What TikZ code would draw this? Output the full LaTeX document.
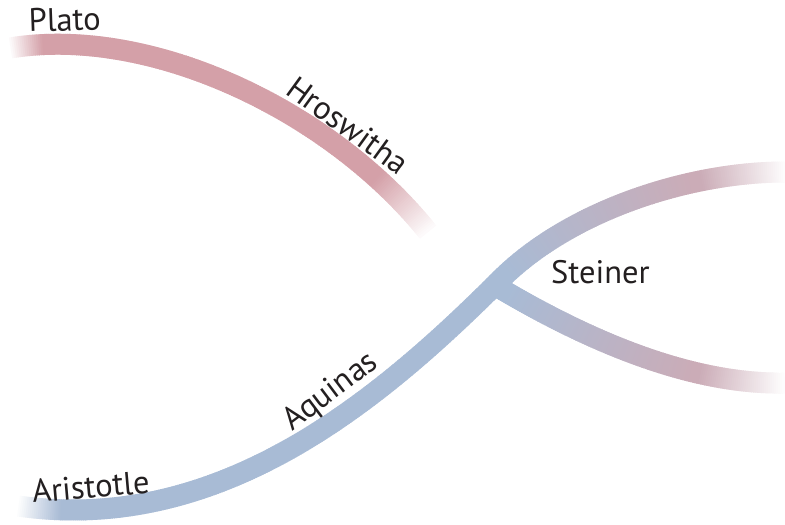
\documentclass[tikz,border=0pt]{standalone}
\usepackage{fontspec}
\setmainfont{PT Sans}
\usetikzlibrary{decorations.markings}
\definecolor{bandblue}{RGB}{168,187,213}
\definecolor{bandrose}{RGB}{212,160,168}
\definecolor{bandmauve}{RGB}{203,172,183}
\definecolor{labelgray}{RGB}{35,31,32}

% one thin slice of a band, coloured by its place along the path
\newcommand\bandpiece{%
  \pgfmathsetmacro\bandf{\pgfkeysvalueof{/pgf/decoration/mark info/distance from start}/\pgfdecoratedpathlength}%
  \pgfmathsetmacro\bandm{100*min(1,max(0,(\bandf-\mixa)/(\mixb-\mixa)))}%
  \pgfmathsetmacro\bandw{100*max(0,min(1,\bandf/\fadea,(1-\bandf)/(1-\fadeb)))}%
  \colorlet{bandtmp}{\bandfar!\bandm!\bandnear}%
  \fill[bandtmp!\bandw!white] (-1.4pt,-\bandhw) rectangle (1.4pt,\bandhw);%
}

\begin{document}
\begin{tikzpicture}[
    x=1pt, y=-1pt,
    band near/.store in=\bandnear,
    band far/.store in=\bandfar,
    mix from/.store in=\mixa,
    mix to/.store in=\mixb,
    fade in/.store in=\fadea,
    fade out/.store in=\fadeb,
    band width/.store in=\bandhw,
    band/.style={band width=10.5pt, postaction={decorate},
        decoration={markings, mark=between positions 0 and 1 step 2pt with {\bandpiece}}},
    philo/.style={font=\fontsize{32.5}{38}\selectfont, text=labelgray, inner sep=0pt, anchor=base west}
]
    \useasboundingbox (0,0) rectangle (785,525);

    % Ends of the bands
    \coordinate (platoend) at (10,48);
    \coordinate (hroswend) at (428,232);
    \coordinate (aristend) at (18,506);
    \coordinate (fork) at (500,280);
    \coordinate (lowerstart) at (496,286);
    \coordinate (upperend) at (785,172);
    \coordinate (lowerend) at (785,383);

    % Plato band
    \path[band, band near=bandrose, band far=bandrose, mix from=0, mix to=1,
        fade in=0.07, fade out=0.84]
        (platoend) .. controls (150,25) and (330,110) .. (hroswend);

    % Steiner branch, lower
    \path[band, band near=bandblue, band far=bandmauve, mix from=0.05, mix to=0.7,
        fade in=0.01, fade out=0.72]
        (lowerstart) .. controls (570,330) and (680,385) .. (lowerend);

    % Aristotle band, up to the upper right
    \path[band, band near=bandblue, band far=bandmauve, mix from=0.65, mix to=0.89,
        fade in=0.05, fade out=0.9]
        (aristend) .. controls (220,535) and (380,400) .. (fork)
        .. controls (570,210) and (690,172) .. (upperend);

    % Names
    \node[philo, rotate=2] (plato) at (29,32) {Plato};
    \node[philo, rotate=-36] (hroswitha) at (284,93) {Hroswitha};
    \node[philo, rotate=37] (aquinas) at (292,432) {Aquinas};
    \node[philo, rotate=5] (aristotle) at (33,503) {Aristotle};
    \node[philo] (steiner) at (551,283) {Steiner};
\end{tikzpicture}
\end{document}
